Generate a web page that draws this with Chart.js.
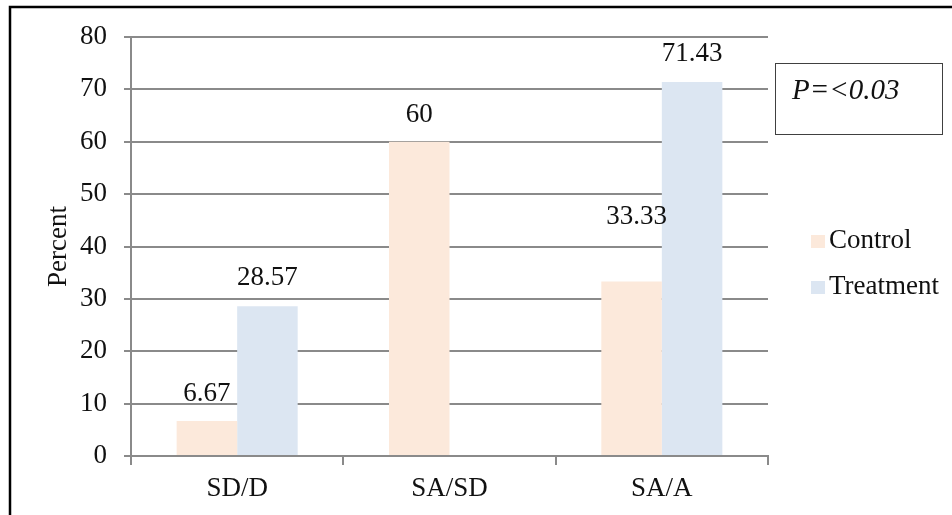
<!DOCTYPE html>
<html>
<head>
<meta charset="utf-8">
<script src="https://cdn.jsdelivr.net/npm/chart.js@4/dist/chart.umd.min.js"></script>
<style>
  html, body { margin: 0; padding: 0; background: #fff; }
  #wrap { width: 952px; height: 515px; position: relative; }
</style>
</head>
<body>
<div id="wrap"><canvas id="chart" width="952" height="515"></canvas></div>
<script>
// categories and values
const categories = ['SD/D', 'SA/SD', 'SA/A'];
const controlValues = [6.67, 60, 33.33];
const treatmentValues = [28.57, null, 71.43];
const yTicks = [0, 10, 20, 30, 40, 50, 60, 70, 80];
const seriesNames = ['Control', 'Treatment'];
const pValueText = 'P=<0.03';

const serif = "'Liberation Serif', 'Times New Roman', serif";
const gridGray = '#8a8a8a';

// value labels sit above bars; one was nudged up in the original
const labelLift = [[27, 27, 65], [28, 28, 28]];

const labelPlugin = {
  id: 'valueLabels',
  afterDatasetsDraw(chart) {
    const ctx = chart.ctx;
    ctx.save();
    ctx.font = '27px ' + serif;
    ctx.fillStyle = '#111';
    ctx.textAlign = 'center';
    ctx.textBaseline = 'middle';
    chart.data.datasets.forEach((ds, i) => {
      const meta = chart.getDatasetMeta(i);
      meta.data.forEach((bar, j) => {
        const v = ds.data[j];
        if (v === null || v === undefined) return;
        ctx.fillText(String(v), bar.x + (i === 0 && j === 2 ? 5 : 0), bar.y - labelLift[i][j]);
      });
    });
    ctx.restore();
  }
};

const framePlugin = {
  id: 'frameAndLegend',
  afterDraw(chart) {
    const ctx = chart.ctx;
    ctx.save();
    // outer frame (cropped on right / bottom)
    ctx.strokeStyle = '#000';
    ctx.lineWidth = 2.5;
    ctx.beginPath();
    ctx.moveTo(10, 520);
    ctx.lineTo(10, 7);
    ctx.lineTo(960, 7);
    ctx.stroke();

    // p-value box
    ctx.lineWidth = 1;
    ctx.strokeStyle = '#404040';
    ctx.strokeRect(775.5, 63.5, 167, 71);
    ctx.fillStyle = '#111';
    ctx.font = 'italic 29px ' + serif;
    ctx.textAlign = 'left';
    ctx.textBaseline = 'alphabetic';
    ctx.fillText(pValueText, 792, 99);

    // legend
    ctx.font = '27px ' + serif;
    ctx.textBaseline = 'middle';
    chart.data.datasets.forEach((ds, i) => {
      const y = 241 + i * 46;
      ctx.fillStyle = ds.backgroundColor;
      ctx.fillRect(811, y - 6, 14, 13);
      ctx.fillStyle = '#111';
      ctx.fillText(ds.label, 829, y);
    });
    ctx.restore();
  }
};

new Chart(document.getElementById('chart'), {
  type: 'bar',
  data: {
    labels: categories,
    datasets: [
      { label: seriesNames[0], data: controlValues, backgroundColor: '#FCE9DB' },
      { label: seriesNames[1], data: treatmentValues, backgroundColor: '#DCE6F2' }
    ]
  },
  options: {
    responsive: false,
    animation: false,
    layout: { padding: { left: 20, top: 37, right: 184, bottom: 0 } },
    datasets: { bar: { categoryPercentage: 0.57, barPercentage: 1.0 } },
    plugins: {
      legend: { display: false },
      tooltip: { enabled: false }
    },
    scales: {
      x: {
        grid: { display: true, drawOnChartArea: false, drawTicks: true, tickLength: 9, color: gridGray, lineWidth: 2 },
        border: { display: true, color: gridGray, width: 2 },
        ticks: { color: '#111', font: { family: serif, size: 27 }, padding: 8 },
        afterFit(scale) { scale.height = 59; }
      },
      y: {
        min: 0,
        max: 80,
        afterBuildTicks(scale) { scale.ticks = yTicks.map(v => ({ value: v })); },
        grid: { color: gridGray, lineWidth: 2, tickLength: 7 },
        border: { display: true, color: gridGray, width: 2 },
        ticks: { color: '#111', font: { family: serif, size: 27 }, padding: 17 },
        title: {
          display: true,
          text: 'Percent',
          color: '#111',
          font: { family: serif, size: 27 },
          padding: { top: 23, bottom: 0 }
        },
        afterFit(scale) { scale.width = 111; }
      }
    }
  },
  plugins: [labelPlugin, framePlugin]
});
</script>
</body>
</html>
